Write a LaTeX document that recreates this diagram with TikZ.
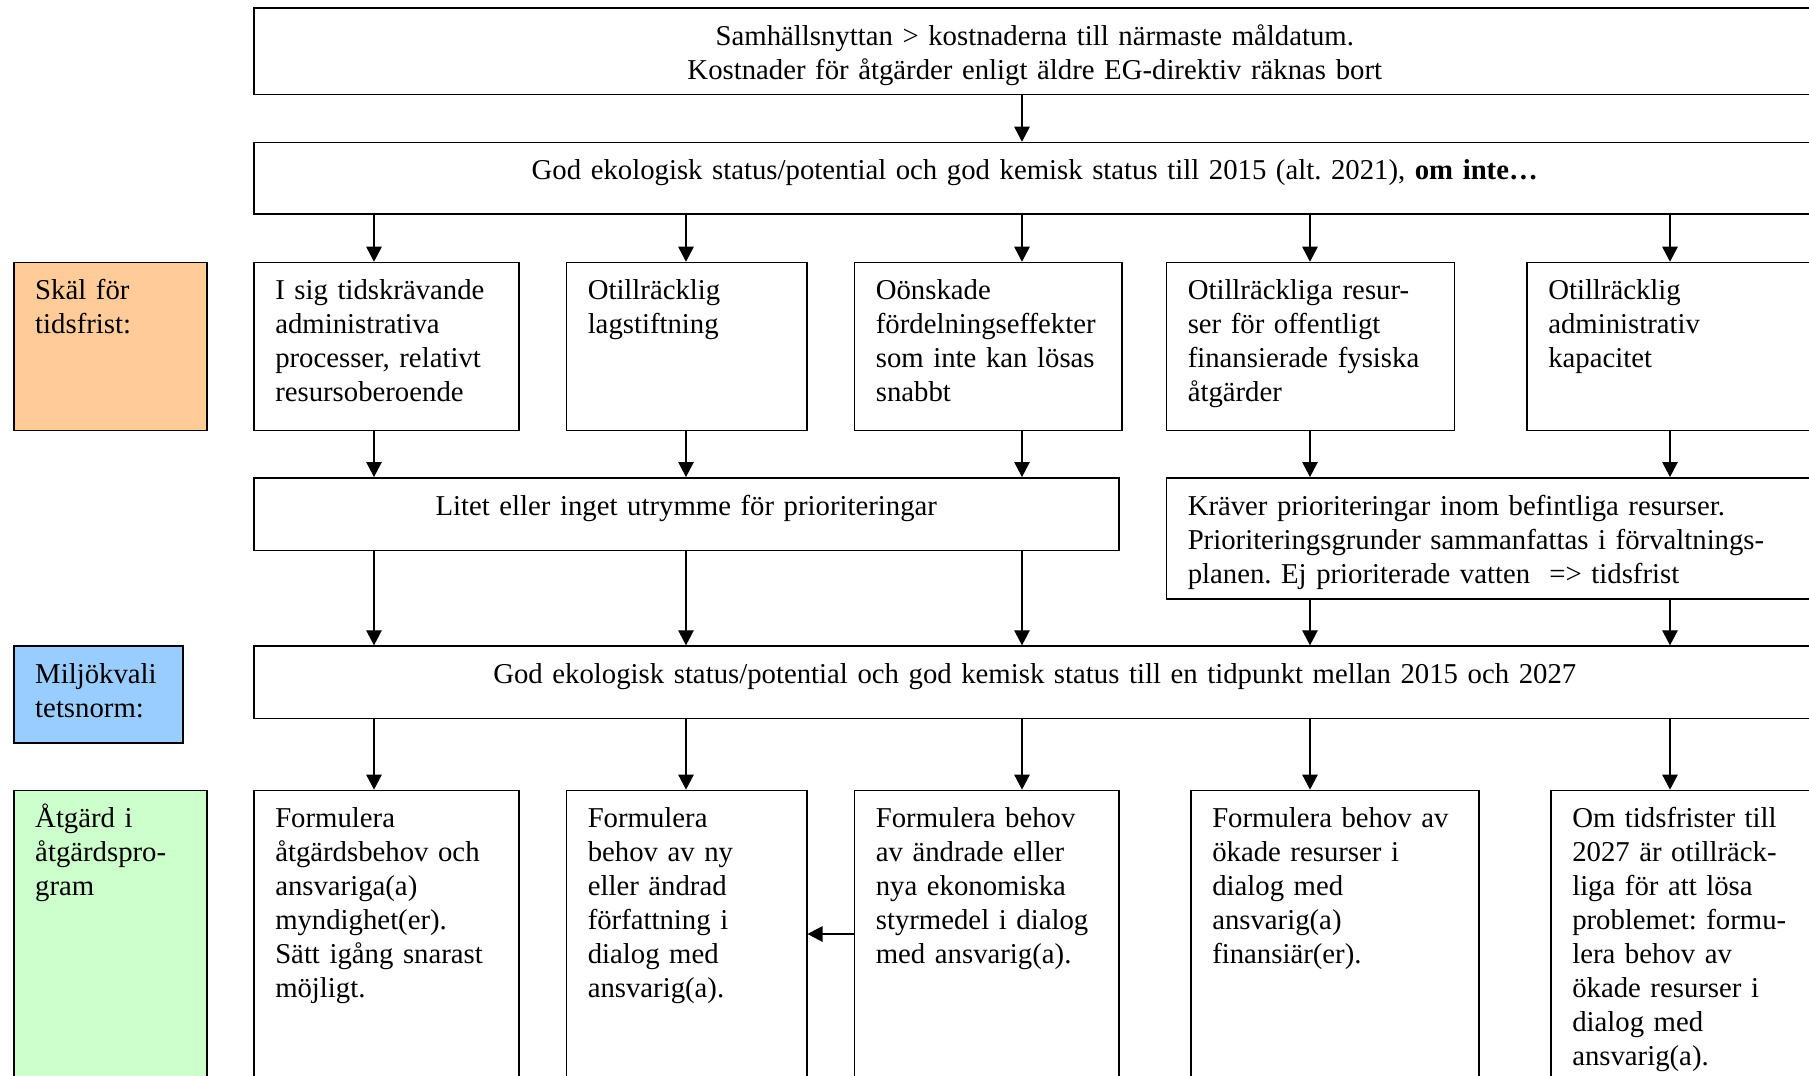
\documentclass[tikz,border=0pt]{standalone}
\usepackage{fontspec}
\setmainfont{Liberation Serif}
\usetikzlibrary{arrows.meta}
\definecolor{skalfarg}{RGB}{255,204,153}
\definecolor{normfarg}{RGB}{153,204,255}
\definecolor{atgfarg}{RGB}{204,255,204}
\newcommand{\rutfont}{\fontsize{11.5}{13.6}\selectfont\frenchspacing
    \hyphenpenalty=10000\relax}
\begin{document}
\begin{tikzpicture}[x=0.4pt,y=-0.4pt,
    box/.style={draw,line width=0.6pt,anchor=north west,inner xsep=8.6pt,inner ysep=0pt,
                text height=15pt,font=\rutfont},
    wide/.style={box,align=center},
    cell/.style={box,align=left},
    arr/.style={line width=0.45pt,-{Triangle[length=6pt,width=6.2pt]}}]
    \useasboundingbox (0,0) rectangle (1809,1075);
    \clip (0,0) rectangle (1809,1075);

    % rubriker till vänster
    \node[cell,fill=skalfarg,text width=60pt,text depth=52.3pt] (skal) at (13,261.7) {Skäl för\\tidsfrist:};
    \node[cell,fill=normfarg,text width=50.4pt,text depth=23.8pt] (norm) at (13,645.3) {Miljökvali\\tetsnorm:};
    \node[cell,fill=atgfarg,text width=60pt,text depth=109pt] (atg) at (13,789.6) {Åtgärd i\\åtgärdspro-\\gram};

    \node[wide,text width=607.6pt,text depth=19.56pt] (mal) at (253,7.3)
        {Samhällsnyttan > kostnaderna till närmaste måldatum.\\Kostnader för åtgärder enligt äldre EG-direktiv räknas bort};
    \node[wide,text width=607.6pt,text depth=13.64pt] (god) at (253,141.7)
        {God ekologisk status/potential och god kemisk status till 2015 (alt. 2021), \textbf{om inte…}};

    \node[cell,text width=88.8pt,text depth=52.3pt] (s1) at (253,261.7) {I sig tidskrävande\\administrativa\\processer, relativt\\resursoberoende};
    \node[cell,text width=79pt,text depth=52.3pt] (s2) at (565.5,261.7) {Otillräcklig\\lagstiftning};
    \node[cell,text width=89.8pt,text depth=52.3pt] (s3) at (853.6,261.7) {Oönskade\\fördelningseffekter\\som inte kan lösas\\snabbt};
    \node[cell,text width=98pt,text depth=52.3pt] (s4) at (1165.5,261.7) {Otillräckliga resur-\\ser för offentligt\\finansierade fysiska\\åtgärder};
    \node[cell,text width=98.4pt,text depth=52.3pt] (s5) at (1526,261.7) {Otillräcklig\\administrativ\\kapacitet};

    \node[wide,text width=328.8pt,text depth=14.04pt] (litet) at (253,477) {Litet eller inget utrymme för prioriteringar};
    \node[cell,text width=242.6pt,text depth=33.4pt] (krav) at (1165.5,477)
        {Kräver prioriteringar inom befintliga resurser.\\Prioriteringsgrunder sammanfattas i förvaltnings-\\planen. Ej prioriterade vatten \ => tidsfrist};

    \node[wide,text width=607.6pt,text depth=14pt] (mkn) at (253,645.3)
        {God ekologisk status/potential och god kemisk status till en tidpunkt mellan 2015 och 2027};

    \node[cell,text width=88.8pt,text depth=109pt] (f1) at (253,789.6) {Formulera\\åtgärdsbehov och\\ansvariga(a)\\myndighet(er).\\Sätt igång snarast\\möjligt.};
    \node[cell,text width=79pt,text depth=109pt] (f2) at (565.5,789.6) {Formulera\\behov av ny\\eller ändrad\\författning i\\dialog med\\ansvarig(a).};
    \node[cell,text width=88.6pt,text depth=109pt] (f3) at (853.6,789.6) {Formulera behov\\av ändrade eller\\nya ekonomiska\\styrmedel i dialog\\med ansvarig(a).};
    \node[cell,text width=98pt,text depth=109pt] (f4) at (1190,789.6) {Formulera behov av\\ökade resurser i\\dialog med\\ansvarig(a)\\finansiär(er).};
    \node[cell,text width=88.8pt,text depth=109pt] (f5) at (1550,789.6) {Om tidsfrister till\\2027 är otillräck-\\liga för att lösa\\problemet: formu-\\lera behov av\\ökade resurser i\\dialog med\\ansvarig(a).};

    % kolumner för pilarna
    \coordinate (ka) at (374,0);
    \coordinate (kb) at (686,0);
    \coordinate (kc) at (1022,0);
    \coordinate (kd) at (1310,0);
    \coordinate (ke) at (1670,0);
    \coordinate (rad) at (0,934);

    \draw[arr] (mal.south -| kc) -- (god.north -| kc);
    \draw[arr] (god.south -| ka) -- (s1.north -| ka);
    \draw[arr] (god.south -| kb) -- (s2.north -| kb);
    \draw[arr] (god.south -| kc) -- (s3.north -| kc);
    \draw[arr] (god.south -| kd) -- (s4.north -| kd);
    \draw[arr] (god.south -| ke) -- (s5.north -| ke);
    \draw[arr] (s1.south -| ka) -- (litet.north -| ka);
    \draw[arr] (s2.south -| kb) -- (litet.north -| kb);
    \draw[arr] (s3.south -| kc) -- (litet.north -| kc);
    \draw[arr] (s4.south -| kd) -- (krav.north -| kd);
    \draw[arr] (s5.south -| ke) -- (krav.north -| ke);
    \draw[arr] (litet.south -| ka) -- (mkn.north -| ka);
    \draw[arr] (litet.south -| kb) -- (mkn.north -| kb);
    \draw[arr] (litet.south -| kc) -- (mkn.north -| kc);
    \draw[arr] (krav.south -| kd) -- (mkn.north -| kd);
    \draw[arr] (krav.south -| ke) -- (mkn.north -| ke);
    \draw[arr] (mkn.south -| ka) -- (f1.north -| ka);
    \draw[arr] (mkn.south -| kb) -- (f2.north -| kb);
    \draw[arr] (mkn.south -| kc) -- (f3.north -| kc);
    \draw[arr] (mkn.south -| kd) -- (f4.north -| kd);
    \draw[arr] (mkn.south -| ke) -- (f5.north -| ke);
    \draw[arr] (f3.west |- rad) -- (f2.east |- rad);
\end{tikzpicture}
\end{document}
